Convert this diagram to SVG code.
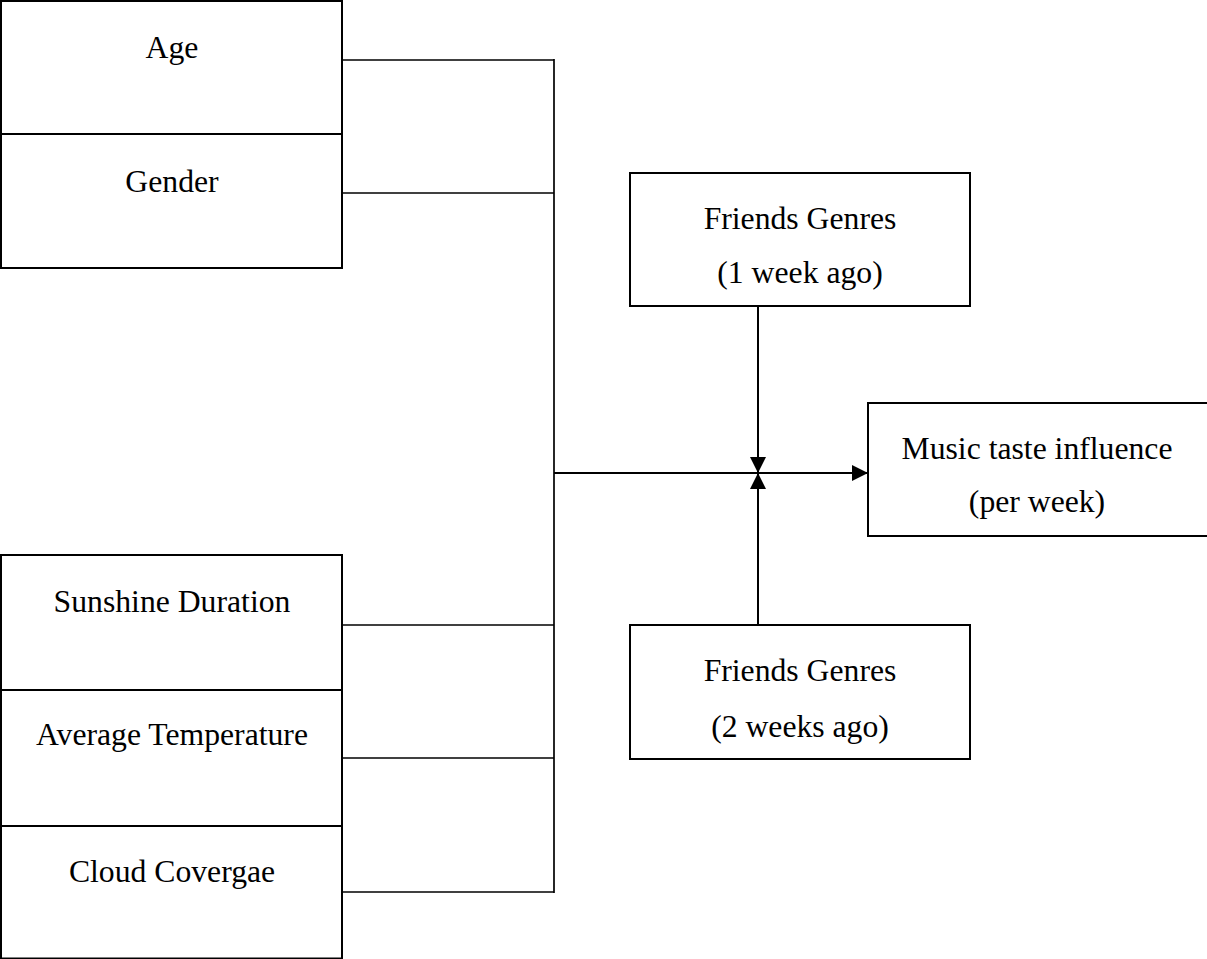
<svg xmlns="http://www.w3.org/2000/svg" width="1207" height="959" viewBox="0 0 1207 959">
<style>
.box{fill:#fff;stroke:#000;stroke-width:2}
.t{font-family:"Liberation Serif","Times New Roman",serif;font-size:31.7px;fill:#000;text-anchor:middle}
.c{fill:none;stroke:#000;stroke-width:1.7}
.a{fill:none;stroke:#000;stroke-width:2}
</style>
<defs>
<marker id="ah" viewBox="0 0 16 16" refX="16" refY="8" markerWidth="16" markerHeight="16" markerUnits="userSpaceOnUse" orient="auto">
<path d="M0,0 L16,8 L0,16 Z" fill="#000"/>
</marker>
</defs>
<rect width="1207" height="959" fill="#fff"/>
<g id="connectors">
<line class="c" x1="342" y1="60" x2="554" y2="60"/>
<line class="c" x1="342" y1="193" x2="554" y2="193"/>
<line class="c" x1="342" y1="625" x2="554" y2="625"/>
<line class="c" x1="342" y1="758" x2="554" y2="758"/>
<line class="c" x1="342" y1="892" x2="554" y2="892"/>
<line class="c" x1="554" y1="59" x2="554" y2="893"/>
<line class="a" x1="554" y1="473" x2="868" y2="473" marker-end="url(#ah)"/>
<line class="a" x1="758" y1="306" x2="758" y2="473" marker-end="url(#ah)"/>
<line class="a" x1="758" y1="625" x2="758" y2="473" marker-end="url(#ah)"/>
</g>
<g id="age">
<rect class="box" x="1" y="1" width="341" height="133"/>
<text class="t" x="172" y="58">Age</text>
</g>
<g id="gender">
<rect class="box" x="1" y="134" width="341" height="134"/>
<text class="t" x="172" y="192">Gender</text>
</g>
<g id="sunshine">
<rect class="box" x="1" y="555" width="341" height="135"/>
<text class="t" x="172" y="612">Sunshine Duration</text>
</g>
<g id="temperature">
<rect class="box" x="1" y="690" width="341" height="136"/>
<text class="t" x="172" y="745">Average Temperature</text>
</g>
<g id="cloud">
<rect class="box" x="1" y="826" width="341" height="132.5"/>
<text class="t" x="172" y="882">Cloud Covergae</text>
</g>
<g id="friends1">
<rect class="box" x="630" y="173" width="340" height="133"/>
<text class="t" x="800" y="229">Friends Genres</text>
<text class="t" x="800" y="283">(1 week ago)</text>
</g>
<g id="friends2">
<rect class="box" x="630" y="625" width="340" height="134"/>
<text class="t" x="800" y="681">Friends Genres</text>
<text class="t" x="800" y="737">(2 weeks ago)</text>
</g>
<g id="music">
<rect class="box" x="868" y="403" width="345" height="133"/>
<text class="t" x="1037" y="459">Music taste influence</text>
<text class="t" x="1037" y="512">(per week)</text>
</g>
</svg>
